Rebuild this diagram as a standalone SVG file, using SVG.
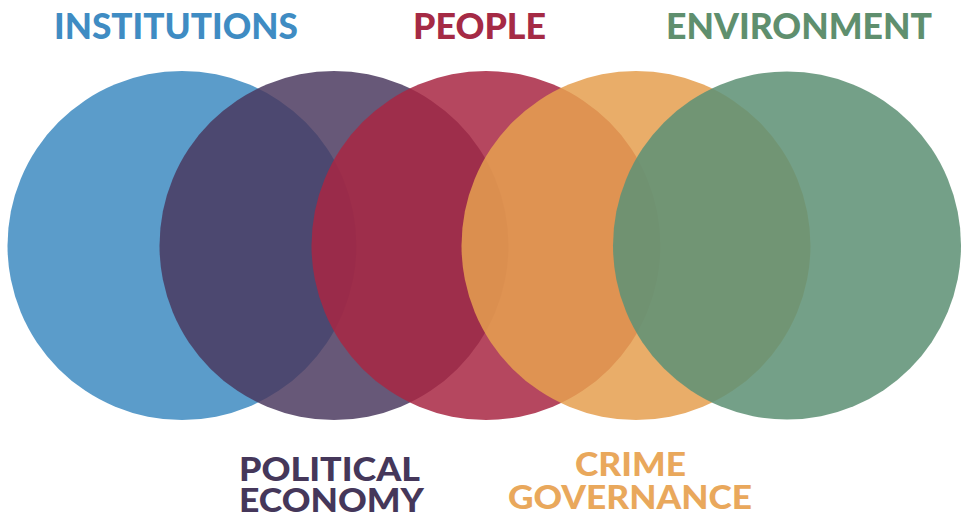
<svg xmlns="http://www.w3.org/2000/svg" width="962" height="518" viewBox="0 0 962 518">
<style>
text{font-family:Lato,"Open Sans","Liberation Sans",sans-serif;font-weight:900;}
.t{font-size:36px}
.b{font-size:33px}
</style>
<rect width="962" height="518" fill="#ffffff"/>
<g id="institutions"><circle cx="182" cy="245.5" r="174.5" fill="#5b9cca"/><text class="t" x="54" y="38.5" fill="#3f8cc3" textLength="244" lengthAdjust="spacingAndGlyphs">INSTITUTIONS</text></g>
<g id="political-economy"><circle cx="334" cy="245.5" r="174.5" fill="#4a385e" fill-opacity="0.84"/><text class="b" x="239" y="480.5" fill="#45375a" textLength="181" lengthAdjust="spacingAndGlyphs">POLITICAL</text><text class="b" x="239" y="511.5" fill="#45375a" textLength="185" lengthAdjust="spacingAndGlyphs">ECONOMY</text></g>
<g id="people"><circle cx="486" cy="245.5" r="174.5" fill="#a82743" fill-opacity="0.85"/><text class="t" x="413" y="38.5" fill="#a52a45" textLength="133" lengthAdjust="spacingAndGlyphs">PEOPLE</text></g>
<g id="crime-governance"><circle cx="636" cy="245.5" r="174.5" fill="#e59f50" fill-opacity="0.86"/><text class="b" x="575" y="476" fill="#e9a85c" textLength="111" lengthAdjust="spacingAndGlyphs">CRIME</text><text class="b" x="508" y="508.5" fill="#e9a85c" textLength="244" lengthAdjust="spacingAndGlyphs">GOVERNANCE</text></g>
<g id="environment"><circle cx="787" cy="245.5" r="174" fill="#5f9276" fill-opacity="0.87"/><text class="t" x="666" y="38.5" fill="#5f8f6e" textLength="266" lengthAdjust="spacingAndGlyphs">ENVIRONMENT</text></g>
<g id="connectors"></g>
</svg>
